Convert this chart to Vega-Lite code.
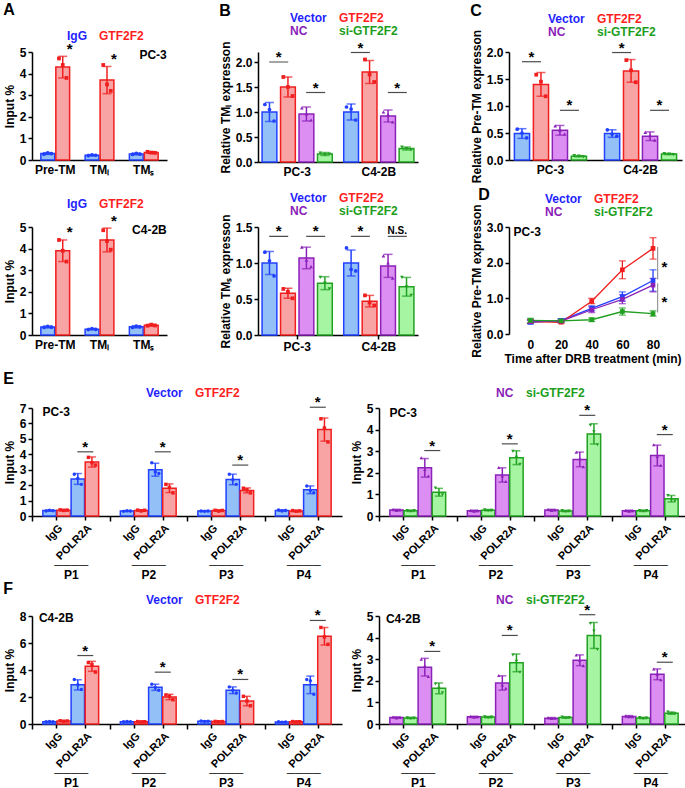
{
"$schema": "https://vega.github.io/schema/vega-lite/v6.json",
"padding": {"left": 3, "top": 2, "right": 0, "bottom": 0},
"config": {
 "font": "Liberation Sans",
 "view": {"stroke": null},
 "axis": {"grid": false, "domainColor": "#000", "domainWidth": 1.5, "tickColor": "#000", "tickWidth": 1.5, "tickSize": 4, "labelColor": "#000", "labelFontSize": 12, "labelFontWeight": "bold", "labelFont": "Liberation Sans", "titleFont": "Liberation Sans", "titleFontSize": 12, "titleFontWeight": "bold", "titleColor": "#000", "labelPadding": 2, "titlePadding": 3, "labelOverlap": false, "labelFlush": false},
 "legend": {"orient": "top", "direction": "horizontal", "symbolOpacity": 0, "symbolSize": 0, "symbolStrokeWidth": 0, "labelFont": "Liberation Sans", "labelFontSize": 12, "labelFontWeight": "bold", "columnPadding": 0, "rowPadding": 1, "labelOffset": 0, "padding": 0, "layout": {"top": {"anchor": "middle"}}},
 "title": {"anchor": "start", "frame": "bounds", "fontSize": 16, "fontWeight": "bold", "font": "Liberation Sans", "color": "#000"},
 "text": {"font": "Liberation Sans", "fontWeight": "bold"}
},
"resolve": {"scale": {"color": "independent", "stroke": "independent", "fill": "independent", "shape": "independent", "x": "independent", "y": "independent", "xOffset": "independent"}, "legend": {"color": "independent"}},
"spacing": 7,
"vconcat": [
{
 "spacing": 4,
 "resolve": {"scale": {"color": "independent", "stroke": "independent", "fill": "independent", "shape": "independent", "x": "independent", "y": "independent", "xOffset": "independent"}, "legend": {"color": "independent"}},
 "vconcat": [
 {
  "spacing": 52,
  "resolve": {"scale": {"color": "independent", "stroke": "independent", "fill": "independent", "shape": "independent", "x": "independent", "y": "independent", "xOffset": "independent"}, "legend": {"color": "independent"}},
  "hconcat": [
  {
   "width": 135, "height": 108,
   "title": {"text": "A", "offset": 12},
   "data": {"values": [
    {"c":"Pre-TM","g":"IgG","m":0.3,"lo":0.26,"hi":0.34,"a":0.27,"b":0.33,"d":0.3},
    {"c":"Pre-TM","g":"GTF2F2","m":4.3,"lo":3.8,"hi":4.8,"a":4.7,"b":4.4,"d":3.8},
    {"c":"TMₗ","g":"IgG","m":0.22,"lo":0.19,"hi":0.25,"a":0.2,"b":0.24,"d":0.22},
    {"c":"TMₗ","g":"GTF2F2","m":3.7,"lo":3.07,"hi":4.33,"a":4.4,"b":3.5,"d":3.2},
    {"c":"TMₛ","g":"IgG","m":0.28,"lo":0.24,"hi":0.32,"a":0.26,"b":0.31,"d":0.27},
    {"c":"TMₛ","g":"GTF2F2","m":0.35,"lo":0.31,"hi":0.39,"a":0.38,"b":0.34,"d":0.33}
   ]},
   "layer": [
    {"mark": {"type": "bar", "strokeWidth": 1.5},
     "encoding": {
      "x": {"field": "c", "type": "nominal", "scale": {"domain": ["Pre-TM","TMₗ","TMₛ"], "paddingInner": 0.35, "paddingOuter": 0.2}, "axis": {"title": null, "labelAngle": 0, "ticks": false, "labelPadding": 4}},
      "xOffset": {"field": "g", "type": "nominal", "scale": {"domain": ["IgG","GTF2F2"], "paddingInner": 0.08, "paddingOuter": 0}},
      "y": {"field": "m", "type": "quantitative", "scale": {"domain": [0,5], "nice": false}, "axis": {"title": "Input %", "values": [0,1,2,3,4,5]}},
      "color": {"field": "g", "type": "nominal", "scale": {"domain": ["IgG","GTF2F2"], "range": ["#93c1f7","#f9a4a4"]}, "legend": {"title": null, "columns": 2, "offset": 10, "encode": {"labels": {"update": {"fill": {"signal": "datum.value === 'GTF2F2' ? '#ff1f1f' : datum.value === 'NC' ? '#8a1cb8' : datum.value === 'si-GTF2F2' ? '#1c9e1c' : '#1f1fff'"}}}}}},
      "stroke": {"field": "g", "type": "nominal", "scale": {"domain": ["IgG","GTF2F2"], "range": ["#2140ff","#f01e1e"]}, "legend": null}
     }},
    {"mark": {"type": "rule", "strokeWidth": 1.5},
     "encoding": {
      "x": {"field": "c", "type": "nominal"},
      "xOffset": {"field": "g", "type": "nominal", "scale": {"domain": ["IgG","GTF2F2"], "paddingInner": 0.08, "paddingOuter": 0}},
      "y": {"field": "lo", "type": "quantitative", "axis": {"title": "Input %", "values": [0,1,2,3,4,5]}},
      "y2": {"field": "hi"},
      "stroke": {"field": "g", "type": "nominal", "legend": null}
     }},
    {"transform": [{"fold": ["lo","hi"], "as": ["ek","ev"]}],
     "mark": {"type": "tick", "thickness": 1.5, "size": 9},
     "encoding": {
      "x": {"field": "c", "type": "nominal"},
      "xOffset": {"field": "g", "type": "nominal", "scale": {"domain": ["IgG","GTF2F2"], "paddingInner": 0.08, "paddingOuter": 0}},
      "y": {"field": "ev", "type": "quantitative", "axis": {"title": "Input %", "values": [0,1,2,3,4,5]}},
      "fill": {"field": "g", "type": "nominal", "scale": {"domain": ["IgG","GTF2F2"], "range": ["#2140ff","#f01e1e"]}, "legend": null}
     }},
    {"transform": [{"fold": ["a","b","d"]}, {"calculate": "datum.g + '_' + datum.key", "as": "gk"}],
     "mark": {"type": "point", "filled": true, "size": 14, "opacity": 1},
     "encoding": {
      "x": {"field": "c", "type": "nominal"},
      "xOffset": {"field": "gk", "type": "nominal", "scale": {"type": "point", "domain": ["IgG_a","IgG_b","IgG_d","_1","GTF2F2_a","GTF2F2_b","GTF2F2_d"], "padding": 0.84}},
      "y": {"field": "value", "type": "quantitative", "axis": {"title": "Input %", "values": [0,1,2,3,4,5]}},
      "fill": {"field": "g", "type": "nominal", "legend": null},
      "shape": {"field": "g", "type": "nominal", "scale": {"domain": ["IgG","GTF2F2"], "range": ["circle","square"]}, "legend": null}
     }},
    {"data": {"values": [{"c":"Pre-TM","g":"GTF2F2","y":4.93},{"c":"TMₗ","g":"GTF2F2","y":4.43}]},
     "mark": {"type": "text", "text": "*", "fontSize": 15, "fontWeight": "bold", "baseline": "alphabetic"},
     "encoding": {
      "x": {"field": "c", "type": "nominal"},
      "xOffset": {"field": "g", "type": "nominal", "scale": {"domain": ["IgG","GTF2F2"], "paddingInner": 0.08, "paddingOuter": 0}},
      "y": {"field": "y", "type": "quantitative", "axis": {"title": "Input %", "values": [0,1,2,3,4,5]}}
     }},
    {"data": {"values": [{"c":"TMₛ","y":4.85,"t":"PC-3"}]},
     "mark": {"type": "text", "fontSize": 12, "fontWeight": "bold", "align": "right", "baseline": "middle"},
     "encoding": {
      "x": {"field": "c", "type": "nominal", "bandPosition": 1.3},
      "y": {"field": "y", "type": "quantitative", "axis": {"title": "Input %", "values": [0,1,2,3,4,5]}},
      "text": {"field": "t"}
     }}
   ],
   "resolve": {"scale": {"xOffset": "independent"}}
  },
  {
   "width": 160, "height": 110,
   "title": {"text": "B", "offset": -7},
   "data": {"values": [
    {"c":"PC-3","g":"Vector","m":1.0,"lo":0.81,"hi":1.19,"a":1.15,"b":1.05,"d":0.82},
    {"c":"PC-3","g":"GTF2F2","m":1.5,"lo":1.3,"hi":1.7,"a":1.7,"b":1.5,"d":1.32},
    {"c":"PC-3","g":"NC","m":0.96,"lo":0.82,"hi":1.1,"a":1.08,"b":0.96,"d":0.84},
    {"c":"PC-3","g":"si-GTF2F2","m":0.16,"lo":0.13,"hi":0.19,"a":0.18,"b":0.15,"d":0.16},
    {"c":"C4-2B","g":"Vector","m":1.0,"lo":0.84,"hi":1.16,"a":1.1,"b":1.06,"d":0.84},
    {"c":"C4-2B","g":"GTF2F2","m":1.8,"lo":1.57,"hi":2.03,"a":2.05,"b":1.75,"d":1.6},
    {"c":"C4-2B","g":"NC","m":0.92,"lo":0.8,"hi":1.04,"a":1.0,"b":0.95,"d":0.8},
    {"c":"C4-2B","g":"si-GTF2F2","m":0.27,"lo":0.24,"hi":0.3,"a":0.3,"b":0.27,"d":0.24}
   ]},
   "layer": [
    {"mark": {"type": "bar", "strokeWidth": 1.5},
     "encoding": {
      "x": {"field": "c", "type": "nominal", "scale": {"domain": ["PC-3","C4-2B"], "paddingInner": 0.14, "paddingOuter": 0.05}, "axis": {"title": null, "labelAngle": 0, "ticks": false, "labelPadding": 4}},
      "xOffset": {"field": "g", "type": "nominal", "scale": {"domain": ["Vector","GTF2F2","NC","si-GTF2F2"], "paddingInner": 0.2, "paddingOuter": 0}},
      "y": {"field": "m", "type": "quantitative", "scale": {"domain": [0,2.2], "nice": false}, "axis": {"title": "Relative TMₗ expresson", "values": [0,0.5,1,1.5,2], "tickCount": 5}},
      "color": {"field": "g", "type": "nominal", "scale": {"domain": ["Vector","GTF2F2","NC","si-GTF2F2"], "range": ["#93c1f7","#f9a4a4","#dd8ef3","#a6f5a2"]}, "legend": {"title": null, "columns": 2, "offset": 15, "encode": {"labels": {"update": {"fill": {"signal": "datum.value === 'GTF2F2' ? '#ff1f1f' : datum.value === 'NC' ? '#8a1cb8' : datum.value === 'si-GTF2F2' ? '#1c9e1c' : '#1f1fff'"}}}}}},
      "stroke": {"field": "g", "type": "nominal", "scale": {"domain": ["Vector","GTF2F2","NC","si-GTF2F2"], "range": ["#2140ff","#f01e1e","#8b22b8","#22a022"]}, "legend": null}
     }},
    {"mark": {"type": "rule", "strokeWidth": 1.5},
     "encoding": {
      "x": {"field": "c", "type": "nominal"},
      "xOffset": {"field": "g", "type": "nominal", "scale": {"domain": ["Vector","GTF2F2","NC","si-GTF2F2"], "paddingInner": 0.2, "paddingOuter": 0}},
      "y": {"field": "lo", "type": "quantitative", "axis": {"title": "Relative TMₗ expresson", "values": [0,0.5,1,1.5,2], "tickCount": 5}},
      "y2": {"field": "hi"},
      "stroke": {"field": "g", "type": "nominal", "legend": null}
     }},
    {"transform": [{"fold": ["lo","hi"], "as": ["ek","ev"]}],
     "mark": {"type": "tick", "thickness": 1.5, "size": 9},
     "encoding": {
      "x": {"field": "c", "type": "nominal"},
      "xOffset": {"field": "g", "type": "nominal", "scale": {"domain": ["Vector","GTF2F2","NC","si-GTF2F2"], "paddingInner": 0.2, "paddingOuter": 0}},
      "y": {"field": "ev", "type": "quantitative", "axis": {"title": "Relative TMₗ expresson", "values": [0,0.5,1,1.5,2], "tickCount": 5}},
      "fill": {"field": "g", "type": "nominal", "scale": {"domain": ["Vector","GTF2F2","NC","si-GTF2F2"], "range": ["#2140ff","#f01e1e","#8b22b8","#22a022"]}, "legend": null}
     }},
    {"transform": [{"fold": ["a","b","d"]}, {"calculate": "datum.g + '_' + datum.key", "as": "gk"}],
     "mark": {"type": "point", "filled": true, "size": 14, "opacity": 1},
     "encoding": {
      "x": {"field": "c", "type": "nominal"},
      "xOffset": {"field": "gk", "type": "nominal", "scale": {"type": "point", "domain": ["Vector_a","Vector_b","Vector_d","_1","GTF2F2_a","GTF2F2_b","GTF2F2_d","_2","NC_a","NC_b","NC_d","_3","si-GTF2F2_a","si-GTF2F2_b","si-GTF2F2_d"], "padding": 0.6}},
      "y": {"field": "value", "type": "quantitative", "axis": {"title": "Relative TMₗ expresson", "values": [0,0.5,1,1.5,2], "tickCount": 5}},
      "fill": {"field": "g", "type": "nominal", "legend": null},
      "shape": {"field": "g", "type": "nominal", "scale": {"domain": ["Vector","GTF2F2","NC","si-GTF2F2"], "range": ["circle","square","triangle-up","triangle-down"]}, "legend": null}
     }},
    {"data": {"values": [{"c":"PC-3","p":"L","y":2.0},{"c":"PC-3","p":"R","y":1.39},{"c":"C4-2B","p":"L","y":2.19},{"c":"C4-2B","p":"R","y":1.39}]},
     "layer": [
      {"mark": {"type": "tick", "size": 19, "thickness": 1.2, "color": "#000"}},
      {"mark": {"type": "text", "text": "*", "fontSize": 15, "fontWeight": "bold", "baseline": "alphabetic"}}
     ],
     "encoding": {
      "x": {"field": "c", "type": "nominal"},
      "xOffset": {"field": "p", "type": "nominal", "scale": {"type": "point", "domain": ["L","R"], "padding": 0.45}},
      "y": {"field": "y", "type": "quantitative", "axis": {"title": "Relative TMₗ expresson", "values": [0,0.5,1,1.5,2], "tickCount": 5}}
     }}
   ],
   "resolve": {"scale": {"xOffset": "independent"}}
  },
  {
   "width": 173, "height": 108,
   "title": {"text": "C", "offset": -6},
   "data": {"values": [
    {"c":"PC-3","g":"Vector","m":0.49,"lo":0.4,"hi":0.58,"a":0.57,"b":0.5,"d":0.41},
    {"c":"PC-3","g":"GTF2F2","m":1.4,"lo":1.18,"hi":1.62,"a":1.58,"b":1.45,"d":1.18},
    {"c":"PC-3","g":"NC","m":0.55,"lo":0.46,"hi":0.64,"a":0.63,"b":0.55,"d":0.48},
    {"c":"PC-3","g":"si-GTF2F2","m":0.07,"lo":0.06,"hi":0.08,"a":0.08,"b":0.07,"d":0.06},
    {"c":"C4-2B","g":"Vector","m":0.49,"lo":0.42,"hi":0.56,"a":0.56,"b":0.48,"d":0.44},
    {"c":"C4-2B","g":"GTF2F2","m":1.65,"lo":1.44,"hi":1.86,"a":1.85,"b":1.66,"d":1.44},
    {"c":"C4-2B","g":"NC","m":0.44,"lo":0.36,"hi":0.52,"a":0.51,"b":0.45,"d":0.37},
    {"c":"C4-2B","g":"si-GTF2F2","m":0.11,"lo":0.1,"hi":0.12,"a":0.12,"b":0.11,"d":0.1}
   ]},
   "layer": [
    {"mark": {"type": "bar", "strokeWidth": 1.5},
     "encoding": {
      "x": {"field": "c", "type": "nominal", "scale": {"domain": ["PC-3","C4-2B"], "paddingInner": 0.2, "paddingOuter": 0.06}, "axis": {"title": null, "labelAngle": 0, "ticks": false, "labelPadding": 4}},
      "xOffset": {"field": "g", "type": "nominal", "scale": {"domain": ["Vector","GTF2F2","NC","si-GTF2F2"], "paddingInner": 0.2, "paddingOuter": 0}},
      "y": {"field": "m", "type": "quantitative", "scale": {"domain": [0,2], "nice": false}, "axis": {"title": "Relative Pre-TM expresson", "values": [0,0.5,1,1.5,2], "tickCount": 5}},
      "color": {"field": "g", "type": "nominal", "scale": {"domain": ["Vector","GTF2F2","NC","si-GTF2F2"], "range": ["#93c1f7","#f9a4a4","#dd8ef3","#a6f5a2"]}, "legend": {"title": null, "columns": 2, "offset": 14, "encode": {"labels": {"update": {"fill": {"signal": "datum.value === 'GTF2F2' ? '#ff1f1f' : datum.value === 'NC' ? '#8a1cb8' : datum.value === 'si-GTF2F2' ? '#1c9e1c' : '#1f1fff'"}}}}}},
      "stroke": {"field": "g", "type": "nominal", "scale": {"domain": ["Vector","GTF2F2","NC","si-GTF2F2"], "range": ["#2140ff","#f01e1e","#8b22b8","#22a022"]}, "legend": null}
     }},
    {"mark": {"type": "rule", "strokeWidth": 1.5},
     "encoding": {
      "x": {"field": "c", "type": "nominal"},
      "xOffset": {"field": "g", "type": "nominal", "scale": {"domain": ["Vector","GTF2F2","NC","si-GTF2F2"], "paddingInner": 0.2, "paddingOuter": 0}},
      "y": {"field": "lo", "type": "quantitative", "axis": {"title": "Relative Pre-TM expresson", "values": [0,0.5,1,1.5,2], "tickCount": 5}},
      "y2": {"field": "hi"},
      "stroke": {"field": "g", "type": "nominal", "legend": null}
     }},
    {"transform": [{"fold": ["lo","hi"], "as": ["ek","ev"]}],
     "mark": {"type": "tick", "thickness": 1.5, "size": 9},
     "encoding": {
      "x": {"field": "c", "type": "nominal"},
      "xOffset": {"field": "g", "type": "nominal", "scale": {"domain": ["Vector","GTF2F2","NC","si-GTF2F2"], "paddingInner": 0.2, "paddingOuter": 0}},
      "y": {"field": "ev", "type": "quantitative", "axis": {"title": "Relative Pre-TM expresson", "values": [0,0.5,1,1.5,2], "tickCount": 5}},
      "fill": {"field": "g", "type": "nominal", "scale": {"domain": ["Vector","GTF2F2","NC","si-GTF2F2"], "range": ["#2140ff","#f01e1e","#8b22b8","#22a022"]}, "legend": null}
     }},
    {"transform": [{"fold": ["a","b","d"]}, {"calculate": "datum.g + '_' + datum.key", "as": "gk"}],
     "mark": {"type": "point", "filled": true, "size": 14, "opacity": 1},
     "encoding": {
      "x": {"field": "c", "type": "nominal"},
      "xOffset": {"field": "gk", "type": "nominal", "scale": {"type": "point", "domain": ["Vector_a","Vector_b","Vector_d","_1","GTF2F2_a","GTF2F2_b","GTF2F2_d","_2","NC_a","NC_b","NC_d","_3","si-GTF2F2_a","si-GTF2F2_b","si-GTF2F2_d"], "padding": 0.6}},
      "y": {"field": "value", "type": "quantitative", "axis": {"title": "Relative Pre-TM expresson", "values": [0,0.5,1,1.5,2], "tickCount": 5}},
      "fill": {"field": "g", "type": "nominal", "legend": null},
      "shape": {"field": "g", "type": "nominal", "scale": {"domain": ["Vector","GTF2F2","NC","si-GTF2F2"], "range": ["circle","square","triangle-up","triangle-down"]}, "legend": null}
     }},
    {"data": {"values": [{"c":"PC-3","p":"L","y":1.82},{"c":"PC-3","p":"R","y":0.92},{"c":"C4-2B","p":"L","y":1.99},{"c":"C4-2B","p":"R","y":0.92}]},
     "layer": [
      {"mark": {"type": "tick", "size": 19, "thickness": 1.2, "color": "#000"}},
      {"mark": {"type": "text", "text": "*", "fontSize": 15, "fontWeight": "bold", "baseline": "alphabetic"}}
     ],
     "encoding": {
      "x": {"field": "c", "type": "nominal"},
      "xOffset": {"field": "p", "type": "nominal", "scale": {"type": "point", "domain": ["L","R"], "padding": 0.45}},
      "y": {"field": "y", "type": "quantitative", "axis": {"title": "Relative Pre-TM expresson", "values": [0,0.5,1,1.5,2], "tickCount": 5}}
     }}
   ],
   "resolve": {"scale": {"xOffset": "independent"}}
  }
  ]
 },
 {
  "spacing": 52,
  "resolve": {"scale": {"color": "independent", "stroke": "independent", "fill": "independent", "shape": "independent", "x": "independent", "y": "independent", "xOffset": "independent"}, "legend": {"color": "independent"}},
  "hconcat": [
  {
   "width": 135, "height": 108,
   "data": {"values": [
    {"c":"Pre-TM","g":"IgG","m":0.37,"lo":0.33,"hi":0.41,"a":0.35,"b":0.4,"d":0.36},
    {"c":"Pre-TM","g":"GTF2F2","m":3.9,"lo":3.4,"hi":4.4,"a":4.4,"b":3.9,"d":3.4},
    {"c":"TMₗ","g":"IgG","m":0.27,"lo":0.24,"hi":0.3,"a":0.25,"b":0.3,"d":0.26},
    {"c":"TMₗ","g":"GTF2F2","m":4.4,"lo":3.85,"hi":4.95,"a":4.85,"b":4.35,"d":3.95},
    {"c":"TMₛ","g":"IgG","m":0.38,"lo":0.33,"hi":0.43,"a":0.35,"b":0.41,"d":0.38},
    {"c":"TMₛ","g":"GTF2F2","m":0.45,"lo":0.41,"hi":0.49,"a":0.43,"b":0.48,"d":0.44}
   ]},
   "layer": [
    {"mark": {"type": "bar", "strokeWidth": 1.5},
     "encoding": {
      "x": {"field": "c", "type": "nominal", "scale": {"domain": ["Pre-TM","TMₗ","TMₛ"], "paddingInner": 0.35, "paddingOuter": 0.2}, "axis": {"title": null, "labelAngle": 0, "ticks": false, "labelPadding": 4}},
      "xOffset": {"field": "g", "type": "nominal", "scale": {"domain": ["IgG","GTF2F2"], "paddingInner": 0.08, "paddingOuter": 0}},
      "y": {"field": "m", "type": "quantitative", "scale": {"domain": [0,5], "nice": false}, "axis": {"title": "Input %", "values": [0,1,2,3,4,5]}},
      "color": {"field": "g", "type": "nominal", "scale": {"domain": ["IgG","GTF2F2"], "range": ["#93c1f7","#f9a4a4"]}, "legend": {"title": null, "columns": 2, "offset": 17, "encode": {"labels": {"update": {"fill": {"signal": "datum.value === 'GTF2F2' ? '#ff1f1f' : datum.value === 'NC' ? '#8a1cb8' : datum.value === 'si-GTF2F2' ? '#1c9e1c' : '#1f1fff'"}}}}}},
      "stroke": {"field": "g", "type": "nominal", "scale": {"domain": ["IgG","GTF2F2"], "range": ["#2140ff","#f01e1e"]}, "legend": null}
     }},
    {"mark": {"type": "rule", "strokeWidth": 1.5},
     "encoding": {
      "x": {"field": "c", "type": "nominal"},
      "xOffset": {"field": "g", "type": "nominal", "scale": {"domain": ["IgG","GTF2F2"], "paddingInner": 0.08, "paddingOuter": 0}},
      "y": {"field": "lo", "type": "quantitative", "axis": {"title": "Input %", "values": [0,1,2,3,4,5]}},
      "y2": {"field": "hi"},
      "stroke": {"field": "g", "type": "nominal", "legend": null}
     }},
    {"transform": [{"fold": ["lo","hi"], "as": ["ek","ev"]}],
     "mark": {"type": "tick", "thickness": 1.5, "size": 9},
     "encoding": {
      "x": {"field": "c", "type": "nominal"},
      "xOffset": {"field": "g", "type": "nominal", "scale": {"domain": ["IgG","GTF2F2"], "paddingInner": 0.08, "paddingOuter": 0}},
      "y": {"field": "ev", "type": "quantitative", "axis": {"title": "Input %", "values": [0,1,2,3,4,5]}},
      "fill": {"field": "g", "type": "nominal", "scale": {"domain": ["IgG","GTF2F2"], "range": ["#2140ff","#f01e1e"]}, "legend": null}
     }},
    {"transform": [{"fold": ["a","b","d"]}, {"calculate": "datum.g + '_' + datum.key", "as": "gk"}],
     "mark": {"type": "point", "filled": true, "size": 14, "opacity": 1},
     "encoding": {
      "x": {"field": "c", "type": "nominal"},
      "xOffset": {"field": "gk", "type": "nominal", "scale": {"type": "point", "domain": ["IgG_a","IgG_b","IgG_d","_1","GTF2F2_a","GTF2F2_b","GTF2F2_d"], "padding": 0.84}},
      "y": {"field": "value", "type": "quantitative", "axis": {"title": "Input %", "values": [0,1,2,3,4,5]}},
      "fill": {"field": "g", "type": "nominal", "legend": null},
      "shape": {"field": "g", "type": "nominal", "scale": {"domain": ["IgG","GTF2F2"], "range": ["circle","square"]}, "legend": null}
     }},
    {"data": {"values": [{"c":"Pre-TM","g":"GTF2F2","y":4.53},{"c":"TMₗ","g":"GTF2F2","y":5.03}]},
     "mark": {"type": "text", "text": "*", "fontSize": 15, "fontWeight": "bold", "baseline": "alphabetic"},
     "encoding": {
      "x": {"field": "c", "type": "nominal"},
      "xOffset": {"field": "g", "type": "nominal", "scale": {"domain": ["IgG","GTF2F2"], "paddingInner": 0.08, "paddingOuter": 0}},
      "y": {"field": "y", "type": "quantitative", "axis": {"title": "Input %", "values": [0,1,2,3,4,5]}}
     }},
    {"data": {"values": [{"c":"TMₛ","y":4.85,"t":"C4-2B"}]},
     "mark": {"type": "text", "fontSize": 12, "fontWeight": "bold", "align": "right", "baseline": "middle"},
     "encoding": {
      "x": {"field": "c", "type": "nominal", "bandPosition": 1.3},
      "y": {"field": "y", "type": "quantitative", "axis": {"title": "Input %", "values": [0,1,2,3,4,5]}},
      "text": {"field": "t"}
     }}
   ],
   "resolve": {"scale": {"xOffset": "independent"}}
  },
  {
   "width": 160, "height": 108,
   "data": {"values": [
    {"c":"PC-3","g":"Vector","m":1.0,"lo":0.84,"hi":1.16,"a":1.15,"b":1.03,"d":0.82},
    {"c":"PC-3","g":"GTF2F2","m":0.58,"lo":0.51,"hi":0.65,"a":0.64,"b":0.6,"d":0.51},
    {"c":"PC-3","g":"NC","m":1.07,"lo":0.92,"hi":1.22,"a":1.22,"b":1.04,"d":0.95},
    {"c":"PC-3","g":"si-GTF2F2","m":0.72,"lo":0.63,"hi":0.81,"a":0.8,"b":0.72,"d":0.64},
    {"c":"C4-2B","g":"Vector","m":1.0,"lo":0.82,"hi":1.18,"a":1.21,"b":0.91,"d":0.89},
    {"c":"C4-2B","g":"GTF2F2","m":0.47,"lo":0.39,"hi":0.55,"a":0.55,"b":0.45,"d":0.41},
    {"c":"C4-2B","g":"NC","m":0.96,"lo":0.8,"hi":1.12,"a":1.1,"b":1.0,"d":0.79},
    {"c":"C4-2B","g":"si-GTF2F2","m":0.67,"lo":0.54,"hi":0.8,"a":0.8,"b":0.67,"d":0.55}
   ]},
   "layer": [
    {"mark": {"type": "bar", "strokeWidth": 1.5},
     "encoding": {
      "x": {"field": "c", "type": "nominal", "scale": {"domain": ["PC-3","C4-2B"], "paddingInner": 0.14, "paddingOuter": 0.05}, "axis": {"title": null, "labelAngle": 0, "ticks": true, "tickSize": 4, "labelPadding": 2}},
      "xOffset": {"field": "g", "type": "nominal", "scale": {"domain": ["Vector","GTF2F2","NC","si-GTF2F2"], "paddingInner": 0.2, "paddingOuter": 0}},
      "y": {"field": "m", "type": "quantitative", "scale": {"domain": [0,1.5], "nice": false}, "axis": {"title": "Relative TMₛ expresson", "values": [0,0.5,1,1.5], "tickCount": 4}},
      "color": {"field": "g", "type": "nominal", "scale": {"domain": ["Vector","GTF2F2","NC","si-GTF2F2"], "range": ["#93c1f7","#f9a4a4","#dd8ef3","#a6f5a2"]}, "legend": {"title": null, "columns": 2, "offset": 10, "encode": {"labels": {"update": {"fill": {"signal": "datum.value === 'GTF2F2' ? '#ff1f1f' : datum.value === 'NC' ? '#8a1cb8' : datum.value === 'si-GTF2F2' ? '#1c9e1c' : '#1f1fff'"}}}}}},
      "stroke": {"field": "g", "type": "nominal", "scale": {"domain": ["Vector","GTF2F2","NC","si-GTF2F2"], "range": ["#2140ff","#f01e1e","#8b22b8","#22a022"]}, "legend": null}
     }},
    {"mark": {"type": "rule", "strokeWidth": 1.5},
     "encoding": {
      "x": {"field": "c", "type": "nominal"},
      "xOffset": {"field": "g", "type": "nominal", "scale": {"domain": ["Vector","GTF2F2","NC","si-GTF2F2"], "paddingInner": 0.2, "paddingOuter": 0}},
      "y": {"field": "lo", "type": "quantitative", "axis": {"title": "Relative TMₛ expresson", "values": [0,0.5,1,1.5], "tickCount": 4}},
      "y2": {"field": "hi"},
      "stroke": {"field": "g", "type": "nominal", "legend": null}
     }},
    {"transform": [{"fold": ["lo","hi"], "as": ["ek","ev"]}],
     "mark": {"type": "tick", "thickness": 1.5, "size": 9},
     "encoding": {
      "x": {"field": "c", "type": "nominal"},
      "xOffset": {"field": "g", "type": "nominal", "scale": {"domain": ["Vector","GTF2F2","NC","si-GTF2F2"], "paddingInner": 0.2, "paddingOuter": 0}},
      "y": {"field": "ev", "type": "quantitative", "axis": {"title": "Relative TMₛ expresson", "values": [0,0.5,1,1.5], "tickCount": 4}},
      "fill": {"field": "g", "type": "nominal", "scale": {"domain": ["Vector","GTF2F2","NC","si-GTF2F2"], "range": ["#2140ff","#f01e1e","#8b22b8","#22a022"]}, "legend": null}
     }},
    {"transform": [{"fold": ["a","b","d"]}, {"calculate": "datum.g + '_' + datum.key", "as": "gk"}],
     "mark": {"type": "point", "filled": true, "size": 14, "opacity": 1},
     "encoding": {
      "x": {"field": "c", "type": "nominal"},
      "xOffset": {"field": "gk", "type": "nominal", "scale": {"type": "point", "domain": ["Vector_a","Vector_b","Vector_d","_1","GTF2F2_a","GTF2F2_b","GTF2F2_d","_2","NC_a","NC_b","NC_d","_3","si-GTF2F2_a","si-GTF2F2_b","si-GTF2F2_d"], "padding": 0.6}},
      "y": {"field": "value", "type": "quantitative", "axis": {"title": "Relative TMₛ expresson", "values": [0,0.5,1,1.5], "tickCount": 4}},
      "fill": {"field": "g", "type": "nominal", "legend": null},
      "shape": {"field": "g", "type": "nominal", "scale": {"domain": ["Vector","GTF2F2","NC","si-GTF2F2"], "range": ["circle","square","triangle-up","triangle-down"]}, "legend": null}
     }},
    {"data": {"values": [{"c":"PC-3","p":"L","y":1.37,"t":"*"},{"c":"PC-3","p":"R","y":1.37,"t":"*"},{"c":"C4-2B","p":"L","y":1.37,"t":"*"},{"c":"C4-2B","p":"R","y":1.37,"t":"N.S."}]},
     "layer": [
      {"mark": {"type": "tick", "size": 19, "thickness": 1.2, "color": "#000"}},
      {"transform": [{"filter": "datum.t === '*'"}], "mark": {"type": "text", "text": "*", "fontSize": 15, "fontWeight": "bold", "baseline": "alphabetic"}},
      {"transform": [{"filter": "datum.t !== '*'"}], "mark": {"type": "text", "fontSize": 10, "fontWeight": "bold", "baseline": "bottom"}, "encoding": {"text": {"field": "t"}}}
     ],
     "encoding": {
      "x": {"field": "c", "type": "nominal"},
      "xOffset": {"field": "p", "type": "nominal", "scale": {"type": "point", "domain": ["L","R"], "padding": 0.45}},
      "y": {"field": "y", "type": "quantitative", "axis": {"title": "Relative TMₛ expresson", "values": [0,0.5,1,1.5], "tickCount": 4}}
     }}
   ],
   "resolve": {"scale": {"xOffset": "independent"}}
  },
  {
   "width": 167, "height": 107,
   "title": {"text": "D", "offset": -10, "dx": 8},
   "data": {"values": [
    {"t":0,"g":"Vector","m":0.33,"lo":0.28,"hi":0.38},
    {"t":20,"g":"Vector","m":0.38,"lo":0.33,"hi":0.43},
    {"t":40,"g":"Vector","m":0.72,"lo":0.65,"hi":0.79},
    {"t":60,"g":"Vector","m":1.05,"lo":0.92,"hi":1.18},
    {"t":80,"g":"Vector","m":1.5,"lo":1.2,"hi":1.8},
    {"t":0,"g":"GTF2F2","m":0.35,"lo":0.3,"hi":0.4},
    {"t":20,"g":"GTF2F2","m":0.33,"lo":0.3,"hi":0.36},
    {"t":40,"g":"GTF2F2","m":0.92,"lo":0.85,"hi":1.0},
    {"t":60,"g":"GTF2F2","m":1.8,"lo":1.55,"hi":2.05},
    {"t":80,"g":"GTF2F2","m":2.4,"lo":2.1,"hi":2.7},
    {"t":0,"g":"NC","m":0.35,"lo":0.3,"hi":0.4},
    {"t":20,"g":"NC","m":0.36,"lo":0.33,"hi":0.39},
    {"t":40,"g":"NC","m":0.68,"lo":0.6,"hi":0.76},
    {"t":60,"g":"NC","m":0.97,"lo":0.85,"hi":1.1},
    {"t":80,"g":"NC","m":1.37,"lo":1.18,"hi":1.56},
    {"t":0,"g":"si-GTF2F2","m":0.38,"lo":0.32,"hi":0.44},
    {"t":20,"g":"si-GTF2F2","m":0.37,"lo":0.34,"hi":0.4},
    {"t":40,"g":"si-GTF2F2","m":0.4,"lo":0.35,"hi":0.45},
    {"t":60,"g":"si-GTF2F2","m":0.63,"lo":0.53,"hi":0.73},
    {"t":80,"g":"si-GTF2F2","m":0.57,"lo":0.5,"hi":0.65}
   ]},
   "layer": [
    {"mark": {"type": "line", "strokeWidth": 1.3},
     "encoding": {
      "x": {"field": "t", "type": "quantitative", "scale": {"domain": [-14,95], "nice": false}, "axis": {"title": "Time after DRB treatment (min)", "values": [0,20,40,60,80], "domain": false, "ticks": false, "labelPadding": 5}},
      "y": {"field": "m", "type": "quantitative", "scale": {"domain": [0,3], "nice": false}, "axis": {"title": "Relative Pre-TM expresson", "values": [0,1,2,3], "tickCount": 6}},
      "color": {"field": "g", "type": "nominal", "scale": {"domain": ["Vector","GTF2F2","NC","si-GTF2F2"], "range": ["#2140ff","#f01e1e","#8b22b8","#22a022"]}, "legend": {"title": null, "columns": 2, "offset": 9, "encode": {"labels": {"update": {"fill": {"signal": "datum.value === 'GTF2F2' ? '#ff1f1f' : datum.value === 'NC' ? '#8a1cb8' : datum.value === 'si-GTF2F2' ? '#1c9e1c' : '#1f1fff'"}}}}}}
     }},
    {"mark": {"type": "rule", "strokeWidth": 1.3},
     "encoding": {
      "x": {"field": "t", "type": "quantitative", "axis": {"title": "Time after DRB treatment (min)", "values": [0,20,40,60,80], "domain": false, "ticks": false, "labelPadding": 5}},
      "y": {"field": "lo", "type": "quantitative", "axis": {"title": "Relative Pre-TM expresson", "values": [0,1,2,3], "tickCount": 6}},
      "y2": {"field": "hi"},
      "stroke": {"field": "g", "type": "nominal", "scale": {"domain": ["Vector","GTF2F2","NC","si-GTF2F2"], "range": ["#2140ff","#f01e1e","#8b22b8","#22a022"]}, "legend": null}
     }},
    {"transform": [{"fold": ["lo","hi"], "as": ["ek","ev"]}],
     "mark": {"type": "tick", "orient": "horizontal", "thickness": 1.3, "size": 7},
     "encoding": {
      "x": {"field": "t", "type": "quantitative", "axis": {"title": "Time after DRB treatment (min)", "values": [0,20,40,60,80], "domain": false, "ticks": false, "labelPadding": 5}},
      "y": {"field": "ev", "type": "quantitative", "axis": {"title": "Relative Pre-TM expresson", "values": [0,1,2,3], "tickCount": 6}},
      "fill": {"field": "g", "type": "nominal", "scale": {"domain": ["Vector","GTF2F2","NC","si-GTF2F2"], "range": ["#2140ff","#f01e1e","#8b22b8","#22a022"]}, "legend": null}
     }},
    {"mark": {"type": "square", "filled": true, "size": 22, "opacity": 1},
     "encoding": {
      "x": {"field": "t", "type": "quantitative", "axis": {"title": "Time after DRB treatment (min)", "values": [0,20,40,60,80], "domain": false, "ticks": false, "labelPadding": 5}},
      "y": {"field": "m", "type": "quantitative", "axis": {"title": "Relative Pre-TM expresson", "values": [0,1,2,3], "tickCount": 6}},
      "fill": {"field": "g", "type": "nominal", "legend": null}
     }},
    {"data": {"values": [{"x":83,"y":1.53,"y2":2.44},{"x":83,"y":0.6,"y2":1.42}]},
     "mark": {"type": "rule", "color": "#999", "strokeWidth": 1.2},
     "encoding": {
      "x": {"field": "x", "type": "quantitative", "axis": {"title": "Time after DRB treatment (min)", "values": [0,20,40,60,80], "domain": false, "ticks": false, "labelPadding": 5}},
      "y": {"field": "y", "type": "quantitative", "axis": {"title": "Relative Pre-TM expresson", "values": [0,1,2,3], "tickCount": 6}},
      "y2": {"field": "y2"}
     }},
    {"data": {"values": [{"x":87.5,"y":1.73,"t":"*"},{"x":87.5,"y":0.75,"t":"*"}]},
     "mark": {"type": "text", "text": "*", "fontSize": 15, "fontWeight": "bold", "baseline": "alphabetic"},
     "encoding": {
      "x": {"field": "x", "type": "quantitative", "axis": {"title": "Time after DRB treatment (min)", "values": [0,20,40,60,80], "domain": false, "ticks": false, "labelPadding": 5}},
      "y": {"field": "y", "type": "quantitative", "axis": {"title": "Relative Pre-TM expresson", "values": [0,1,2,3], "tickCount": 6}}
     }},
    {"data": {"values": [{"x":-11,"y":2.85,"t":"PC-3"}]},
     "mark": {"type": "text", "fontSize": 12, "fontWeight": "bold", "align": "left", "baseline": "middle"},
     "encoding": {
      "x": {"field": "x", "type": "quantitative", "axis": {"title": "Time after DRB treatment (min)", "values": [0,20,40,60,80], "domain": false, "ticks": false, "labelPadding": 5}},
      "y": {"field": "y", "type": "quantitative", "axis": {"title": "Relative Pre-TM expresson", "values": [0,1,2,3], "tickCount": 6}},
      "text": {"field": "t"}
     }}
   ]
  }
  ]
 }
 ]
},
{
 "spacing": 1,
 "resolve": {"scale": {"color": "independent", "stroke": "independent", "fill": "independent", "shape": "independent", "x": "independent", "y": "independent", "xOffset": "independent"}, "legend": {"color": "independent"}},
 "vconcat": [
{
 "spacing": 8,
 "resolve": {"scale": {"color": "independent", "stroke": "independent", "fill": "independent", "shape": "independent", "x": "independent", "y": "independent", "xOffset": "independent"}, "legend": {"color": "independent"}},
 "hconcat": [
 {
  "width": 310, "height": 108,
  "title": {"text": "E", "offset": 0},
  "data": {"values": [
   {"p":"P1","t":"IgG","g":"Vector","m":0.35,"lo":0.31,"hi":0.39,"a":0.33,"b":0.38,"d":0.34},
   {"p":"P1","t":"IgG","g":"GTF2F2","m":0.38,"lo":0.34,"hi":0.42,"a":0.4,"b":0.36,"d":0.38},
   {"p":"P1","t":"POLR2A","g":"Vector","m":2.4,"lo":2.05,"hi":2.75,"a":2.7,"b":2.45,"d":2.05},
   {"p":"P1","t":"POLR2A","g":"GTF2F2","m":3.5,"lo":3.17,"hi":3.83,"a":3.8,"b":3.45,"d":3.3},
   {"p":"P2","t":"IgG","g":"Vector","m":0.32,"lo":0.29,"hi":0.35,"a":0.3,"b":0.34,"d":0.32},
   {"p":"P2","t":"IgG","g":"GTF2F2","m":0.36,"lo":0.32,"hi":0.4,"a":0.38,"b":0.33,"d":0.37},
   {"p":"P2","t":"POLR2A","g":"Vector","m":3.0,"lo":2.58,"hi":3.42,"a":3.45,"b":2.85,"d":2.75},
   {"p":"P2","t":"POLR2A","g":"GTF2F2","m":1.8,"lo":1.52,"hi":2.08,"a":2.05,"b":1.85,"d":1.5},
   {"p":"P3","t":"IgG","g":"Vector","m":0.32,"lo":0.29,"hi":0.35,"a":0.33,"b":0.3,"d":0.33},
   {"p":"P3","t":"IgG","g":"GTF2F2","m":0.35,"lo":0.31,"hi":0.39,"a":0.37,"b":0.32,"d":0.36},
   {"p":"P3","t":"POLR2A","g":"Vector","m":2.37,"lo":2.03,"hi":2.71,"a":2.7,"b":2.35,"d":2.05},
   {"p":"P3","t":"POLR2A","g":"GTF2F2","m":1.66,"lo":1.5,"hi":1.82,"a":1.8,"b":1.7,"d":1.5},
   {"p":"P4","t":"IgG","g":"Vector","m":0.36,"lo":0.32,"hi":0.4,"a":0.39,"b":0.33,"d":0.36},
   {"p":"P4","t":"IgG","g":"GTF2F2","m":0.33,"lo":0.3,"hi":0.36,"a":0.35,"b":0.31,"d":0.33},
   {"p":"P4","t":"POLR2A","g":"Vector","m":1.7,"lo":1.45,"hi":1.95,"a":1.95,"b":1.65,"d":1.5},
   {"p":"P4","t":"POLR2A","g":"GTF2F2","m":5.6,"lo":4.85,"hi":6.35,"a":6.3,"b":5.7,"d":4.8}
  ]},
  "transform": [{"calculate": "datum.t + '|' + datum.g", "as": "sub"}],
  "layer": [
   {"layer": [
     {"mark": {"type": "bar", "strokeWidth": 1.5},
      "encoding": {
       "x": {"field": "p", "type": "nominal", "scale": {"domain": ["P1","P2","P3","P4"], "paddingInner": 0.28, "paddingOuter": 0.14}, "axis": {"orient": "bottom", "title": null, "labelAngle": 0, "ticks": true, "tickSize": 5, "tickOffset": -38.75, "labelOffset": 38.75, "labelPadding": 38, "labelAlign": "center", "labelBaseline": "top", "labelFontSize": 12, "labelLineHeight": 10, "labelExpr": "['────', datum.label]"}},
       "xOffset": {"field": "sub", "type": "nominal", "scale": {"domain": ["IgG|Vector","IgG|GTF2F2","POLR2A|Vector","POLR2A|GTF2F2"], "paddingInner": 0.05, "paddingOuter": 0}},
       "y": {"field": "m", "type": "quantitative", "scale": {"domain": [0,7], "nice": false}, "axis": {"title": "Input %", "values": [0,1,2,3,4,5,6,7]}},
       "color": {"field": "g", "type": "nominal", "scale": {"domain": ["Vector","GTF2F2"], "range": ["#93c1f7","#f9a4a4"]}, "legend": {"title": null, "columns": 2, "offset": 9, "encode": {"labels": {"update": {"fill": {"signal": "datum.value === 'GTF2F2' ? '#ff1f1f' : datum.value === 'NC' ? '#8a1cb8' : datum.value === 'si-GTF2F2' ? '#1c9e1c' : '#1f1fff'"}}}}}},
       "stroke": {"field": "g", "type": "nominal", "scale": {"domain": ["Vector","GTF2F2"], "range": ["#2140ff","#f01e1e"]}, "legend": null}
      }},
     {"mark": {"type": "rule", "strokeWidth": 1.5},
      "encoding": {
       "x": {"field": "p", "type": "nominal"},
       "xOffset": {"field": "sub", "type": "nominal", "scale": {"domain": ["IgG|Vector","IgG|GTF2F2","POLR2A|Vector","POLR2A|GTF2F2"], "paddingInner": 0.05, "paddingOuter": 0}},
       "y": {"field": "lo", "type": "quantitative", "axis": {"title": "Input %", "values": [0,1,2,3,4,5,6,7]}},
       "y2": {"field": "hi"},
       "stroke": {"field": "g", "type": "nominal", "legend": null}
      }},
     {"transform": [{"fold": ["lo","hi"], "as": ["ek","ev"]}],
      "mark": {"type": "tick", "thickness": 1.5, "size": 8},
      "encoding": {
       "x": {"field": "p", "type": "nominal"},
       "xOffset": {"field": "sub", "type": "nominal", "scale": {"domain": ["IgG|Vector","IgG|GTF2F2","POLR2A|Vector","POLR2A|GTF2F2"], "paddingInner": 0.05, "paddingOuter": 0}},
       "y": {"field": "ev", "type": "quantitative", "axis": {"title": "Input %", "values": [0,1,2,3,4,5,6,7]}},
       "fill": {"field": "g", "type": "nominal", "scale": {"domain": ["Vector","GTF2F2"], "range": ["#2140ff","#f01e1e"]}, "legend": null}
      }},
     {"transform": [{"fold": ["a","b","d"]}, {"calculate": "datum.sub + '_' + datum.key", "as": "gk"}],
      "mark": {"type": "point", "filled": true, "size": 12, "opacity": 1},
      "encoding": {
       "x": {"field": "p", "type": "nominal"},
       "xOffset": {"field": "gk", "type": "nominal", "scale": {"type": "point", "domain": ["IgG|Vector_a","IgG|Vector_b","IgG|Vector_d","_1","IgG|GTF2F2_a","IgG|GTF2F2_b","IgG|GTF2F2_d","_2","POLR2A|Vector_a","POLR2A|Vector_b","POLR2A|Vector_d","_3","POLR2A|GTF2F2_a","POLR2A|GTF2F2_b","POLR2A|GTF2F2_d"], "padding": 0.9}},
       "y": {"field": "value", "type": "quantitative", "axis": {"title": "Input %", "values": [0,1,2,3,4,5,6,7]}},
       "fill": {"field": "g", "type": "nominal", "legend": null},
       "shape": {"field": "g", "type": "nominal", "scale": {"domain": ["Vector","GTF2F2"], "range": ["circle","square"]}, "legend": null}
      }}
    ],
    "resolve": {"scale": {"xOffset": "independent"}}},
   {"data": {"values": [{"k":"P1 POLR2A","y":4.16,"t":"*"},{"k":"P2 POLR2A","y":4.16,"t":"*"},{"k":"P3 POLR2A","y":3.3,"t":"*"},{"k":"P4 POLR2A","y":7.05,"t":"*"},{"k":"P1 IgG","y":6.75,"t":"PC-3"}]},
    "encoding": {
     "x": {"field": "k", "type": "nominal", "scale": {"type": "point", "domain": ["s0a","s0b","P1 IgG","s1","s2","P1 POLR2A","s3","s4","s5","s6","P2 IgG","s7","s8","P2 POLR2A","s9","s10","s11","s12","P3 IgG","s13","s14","P3 POLR2A","s15","s16","s17","s18","P4 IgG","s19","s20","P4 POLR2A","s21","s22"], "padding": 0.5}, "axis": {"orient": "bottom", "title": null, "values": ["P1 IgG","P1 POLR2A","P2 IgG","P2 POLR2A","P3 IgG","P3 POLR2A","P4 IgG","P4 POLR2A"], "labelExpr": "split(datum.label, ' ')[1]", "labelAngle": -45, "ticks": true, "tickSize": 4, "domain": false, "labelFontSize": 11, "labelPadding": 2}},
     "y": {"field": "y", "type": "quantitative", "axis": {"title": "Input %", "values": [0,1,2,3,4,5,6,7]}}
    },
    "layer": [
     {"transform": [{"filter": "datum.t === '*'"}], "mark": {"type": "tick", "size": 16, "thickness": 1.2, "color": "#000"}},
     {"transform": [{"filter": "datum.t === '*'"}], "mark": {"type": "text", "text": "*", "fontSize": 15, "fontWeight": "bold", "baseline": "alphabetic"}},
     {"transform": [{"filter": "datum.t !== '*'"}], "mark": {"type": "text", "fontSize": 12, "fontWeight": "bold", "align": "center", "baseline": "middle"}, "encoding": {"text": {"field": "t"}}}
    ]}
  ],
  "resolve": {"scale": {"x": "independent", "xOffset": "independent"}, "axis": {"x": "independent"}}
 },
 {
  "width": 310, "height": 108,
  "data": {"values": [
   {"p":"P1","t":"IgG","g":"NC","m":0.28,"lo":0.25,"hi":0.31,"a":0.3,"b":0.26,"d":0.28},
   {"p":"P1","t":"IgG","g":"si-GTF2F2","m":0.24,"lo":0.21,"hi":0.27,"a":0.25,"b":0.22,"d":0.25},
   {"p":"P1","t":"POLR2A","g":"NC","m":2.23,"lo":1.8,"hi":2.66,"a":2.7,"b":2.15,"d":1.85},
   {"p":"P1","t":"POLR2A","g":"si-GTF2F2","m":1.1,"lo":0.92,"hi":1.28,"a":1.3,"b":1.02,"d":0.98},
   {"p":"P2","t":"IgG","g":"NC","m":0.24,"lo":0.21,"hi":0.27,"a":0.26,"b":0.22,"d":0.24},
   {"p":"P2","t":"IgG","g":"si-GTF2F2","m":0.27,"lo":0.24,"hi":0.3,"a":0.29,"b":0.25,"d":0.27},
   {"p":"P2","t":"POLR2A","g":"NC","m":1.9,"lo":1.57,"hi":2.23,"a":2.25,"b":1.85,"d":1.6},
   {"p":"P2","t":"POLR2A","g":"si-GTF2F2","m":2.7,"lo":2.38,"hi":3.02,"a":3.0,"b":2.72,"d":2.4},
   {"p":"P3","t":"IgG","g":"NC","m":0.28,"lo":0.25,"hi":0.31,"a":0.3,"b":0.26,"d":0.28},
   {"p":"P3","t":"IgG","g":"si-GTF2F2","m":0.23,"lo":0.2,"hi":0.26,"a":0.25,"b":0.21,"d":0.23},
   {"p":"P3","t":"POLR2A","g":"NC","m":2.62,"lo":2.28,"hi":2.96,"a":2.95,"b":2.65,"d":2.28},
   {"p":"P3","t":"POLR2A","g":"si-GTF2F2","m":3.8,"lo":3.33,"hi":4.27,"a":4.2,"b":3.9,"d":3.3},
   {"p":"P4","t":"IgG","g":"NC","m":0.24,"lo":0.21,"hi":0.27,"a":0.26,"b":0.22,"d":0.24},
   {"p":"P4","t":"IgG","g":"si-GTF2F2","m":0.24,"lo":0.21,"hi":0.27,"a":0.25,"b":0.22,"d":0.25},
   {"p":"P4","t":"POLR2A","g":"NC","m":2.8,"lo":2.32,"hi":3.28,"a":3.3,"b":2.75,"d":2.35},
   {"p":"P4","t":"POLR2A","g":"si-GTF2F2","m":0.8,"lo":0.65,"hi":0.95,"a":0.95,"b":0.75,"d":0.7}
  ]},
  "transform": [{"calculate": "datum.t + '|' + datum.g", "as": "sub"}],
  "layer": [
   {"layer": [
     {"mark": {"type": "bar", "strokeWidth": 1.5},
      "encoding": {
       "x": {"field": "p", "type": "nominal", "scale": {"domain": ["P1","P2","P3","P4"], "paddingInner": 0.28, "paddingOuter": 0.14}, "axis": {"orient": "bottom", "title": null, "labelAngle": 0, "ticks": true, "tickSize": 5, "tickOffset": -38.75, "labelOffset": 38.75, "labelPadding": 38, "labelAlign": "center", "labelBaseline": "top", "labelFontSize": 12, "labelLineHeight": 10, "labelExpr": "['────', datum.label]"}},
       "xOffset": {"field": "sub", "type": "nominal", "scale": {"domain": ["IgG|NC","IgG|si-GTF2F2","POLR2A|NC","POLR2A|si-GTF2F2"], "paddingInner": 0.05, "paddingOuter": 0}},
       "y": {"field": "m", "type": "quantitative", "scale": {"domain": [0,5], "nice": false}, "axis": {"title": "Input %", "values": [0,1,2,3,4,5]}},
       "color": {"field": "g", "type": "nominal", "scale": {"domain": ["NC","si-GTF2F2"], "range": ["#dd8ef3","#a6f5a2"]}, "legend": {"title": null, "columns": 2, "offset": 9, "encode": {"labels": {"update": {"fill": {"signal": "datum.value === 'GTF2F2' ? '#ff1f1f' : datum.value === 'NC' ? '#8a1cb8' : datum.value === 'si-GTF2F2' ? '#1c9e1c' : '#1f1fff'"}}}}}},
       "stroke": {"field": "g", "type": "nominal", "scale": {"domain": ["NC","si-GTF2F2"], "range": ["#8b22b8","#22a022"]}, "legend": null}
      }},
     {"mark": {"type": "rule", "strokeWidth": 1.5},
      "encoding": {
       "x": {"field": "p", "type": "nominal"},
       "xOffset": {"field": "sub", "type": "nominal", "scale": {"domain": ["IgG|NC","IgG|si-GTF2F2","POLR2A|NC","POLR2A|si-GTF2F2"], "paddingInner": 0.05, "paddingOuter": 0}},
       "y": {"field": "lo", "type": "quantitative", "axis": {"title": "Input %", "values": [0,1,2,3,4,5]}},
       "y2": {"field": "hi"},
       "stroke": {"field": "g", "type": "nominal", "legend": null}
      }},
     {"transform": [{"fold": ["lo","hi"], "as": ["ek","ev"]}],
      "mark": {"type": "tick", "thickness": 1.5, "size": 8},
      "encoding": {
       "x": {"field": "p", "type": "nominal"},
       "xOffset": {"field": "sub", "type": "nominal", "scale": {"domain": ["IgG|NC","IgG|si-GTF2F2","POLR2A|NC","POLR2A|si-GTF2F2"], "paddingInner": 0.05, "paddingOuter": 0}},
       "y": {"field": "ev", "type": "quantitative", "axis": {"title": "Input %", "values": [0,1,2,3,4,5]}},
       "fill": {"field": "g", "type": "nominal", "scale": {"domain": ["NC","si-GTF2F2"], "range": ["#8b22b8","#22a022"]}, "legend": null}
      }},
     {"transform": [{"fold": ["a","b","d"]}, {"calculate": "datum.sub + '_' + datum.key", "as": "gk"}],
      "mark": {"type": "point", "filled": true, "size": 12, "opacity": 1},
      "encoding": {
       "x": {"field": "p", "type": "nominal"},
       "xOffset": {"field": "gk", "type": "nominal", "scale": {"type": "point", "domain": ["IgG|NC_a","IgG|NC_b","IgG|NC_d","_1","IgG|si-GTF2F2_a","IgG|si-GTF2F2_b","IgG|si-GTF2F2_d","_2","POLR2A|NC_a","POLR2A|NC_b","POLR2A|NC_d","_3","POLR2A|si-GTF2F2_a","POLR2A|si-GTF2F2_b","POLR2A|si-GTF2F2_d"], "padding": 0.9}},
       "y": {"field": "value", "type": "quantitative", "axis": {"title": "Input %", "values": [0,1,2,3,4,5]}},
       "fill": {"field": "g", "type": "nominal", "legend": null},
       "shape": {"field": "g", "type": "nominal", "scale": {"domain": ["NC","si-GTF2F2"], "range": ["triangle-up","triangle-down"]}, "legend": null}
      }}
    ],
    "resolve": {"scale": {"xOffset": "independent"}}},
   {"data": {"values": [{"k":"P1 POLR2A","y":3.03,"t":"*"},{"k":"P2 POLR2A","y":3.34,"t":"*"},{"k":"P3 POLR2A","y":4.66,"t":"*"},{"k":"P4 POLR2A","y":3.77,"t":"*"},{"k":"P1 IgG","y":4.78,"t":"PC-3"}]},
    "encoding": {
     "x": {"field": "k", "type": "nominal", "scale": {"type": "point", "domain": ["s0a","s0b","P1 IgG","s1","s2","P1 POLR2A","s3","s4","s5","s6","P2 IgG","s7","s8","P2 POLR2A","s9","s10","s11","s12","P3 IgG","s13","s14","P3 POLR2A","s15","s16","s17","s18","P4 IgG","s19","s20","P4 POLR2A","s21","s22"], "padding": 0.5}, "axis": {"orient": "bottom", "title": null, "values": ["P1 IgG","P1 POLR2A","P2 IgG","P2 POLR2A","P3 IgG","P3 POLR2A","P4 IgG","P4 POLR2A"], "labelExpr": "split(datum.label, ' ')[1]", "labelAngle": -45, "ticks": true, "tickSize": 4, "domain": false, "labelFontSize": 11, "labelPadding": 2}},
     "y": {"field": "y", "type": "quantitative", "axis": {"title": "Input %", "values": [0,1,2,3,4,5]}}
    },
    "layer": [
     {"transform": [{"filter": "datum.t === '*'"}], "mark": {"type": "tick", "size": 16, "thickness": 1.2, "color": "#000"}},
     {"transform": [{"filter": "datum.t === '*'"}], "mark": {"type": "text", "text": "*", "fontSize": 15, "fontWeight": "bold", "baseline": "alphabetic"}},
     {"transform": [{"filter": "datum.t !== '*'"}], "mark": {"type": "text", "fontSize": 12, "fontWeight": "bold", "align": "center", "baseline": "middle"}, "encoding": {"text": {"field": "t"}}}
    ]}
  ],
  "resolve": {"scale": {"x": "independent", "xOffset": "independent"}, "axis": {"x": "independent"}}
 }
 ]
},
{
 "spacing": 8,
 "resolve": {"scale": {"color": "independent", "stroke": "independent", "fill": "independent", "shape": "independent", "x": "independent", "y": "independent", "xOffset": "independent"}, "legend": {"color": "independent"}},
 "hconcat": [
 {
  "width": 310, "height": 108,
  "title": {"text": "F", "offset": -3},
  "data": {"values": [
   {"p":"P1","t":"IgG","g":"Vector","m":0.17,"lo":0.15,"hi":0.19,"a":0.16,"b":0.18,"d":0.17},
   {"p":"P1","t":"IgG","g":"GTF2F2","m":0.22,"lo":0.19,"hi":0.25,"a":0.24,"b":0.2,"d":0.22},
   {"p":"P1","t":"POLR2A","g":"Vector","m":2.9,"lo":2.52,"hi":3.28,"a":3.3,"b":2.9,"d":2.55},
   {"p":"P1","t":"POLR2A","g":"GTF2F2","m":4.27,"lo":3.9,"hi":4.64,"a":4.55,"b":4.4,"d":3.85},
   {"p":"P2","t":"IgG","g":"Vector","m":0.17,"lo":0.15,"hi":0.19,"a":0.16,"b":0.18,"d":0.17},
   {"p":"P2","t":"IgG","g":"GTF2F2","m":0.17,"lo":0.15,"hi":0.19,"a":0.18,"b":0.16,"d":0.17},
   {"p":"P2","t":"POLR2A","g":"Vector","m":2.72,"lo":2.49,"hi":2.95,"a":2.95,"b":2.7,"d":2.5},
   {"p":"P2","t":"POLR2A","g":"GTF2F2","m":2.0,"lo":1.8,"hi":2.2,"a":2.15,"b":2.05,"d":1.8},
   {"p":"P3","t":"IgG","g":"Vector","m":0.2,"lo":0.17,"hi":0.23,"a":0.22,"b":0.18,"d":0.2},
   {"p":"P3","t":"IgG","g":"GTF2F2","m":0.18,"lo":0.16,"hi":0.2,"a":0.19,"b":0.17,"d":0.18},
   {"p":"P3","t":"POLR2A","g":"Vector","m":2.5,"lo":2.25,"hi":2.75,"a":2.75,"b":2.5,"d":2.3},
   {"p":"P3","t":"POLR2A","g":"GTF2F2","m":1.7,"lo":1.35,"hi":2.05,"a":2.05,"b":1.7,"d":1.35},
   {"p":"P4","t":"IgG","g":"Vector","m":0.15,"lo":0.13,"hi":0.17,"a":0.16,"b":0.14,"d":0.15},
   {"p":"P4","t":"IgG","g":"GTF2F2","m":0.17,"lo":0.15,"hi":0.19,"a":0.18,"b":0.16,"d":0.17},
   {"p":"P4","t":"POLR2A","g":"Vector","m":2.9,"lo":2.25,"hi":3.55,"a":3.3,"b":3.2,"d":2.2},
   {"p":"P4","t":"POLR2A","g":"GTF2F2","m":6.5,"lo":5.85,"hi":7.15,"a":7.15,"b":6.45,"d":5.9}
  ]},
  "transform": [{"calculate": "datum.t + '|' + datum.g", "as": "sub"}],
  "layer": [
   {"layer": [
     {"mark": {"type": "bar", "strokeWidth": 1.5},
      "encoding": {
       "x": {"field": "p", "type": "nominal", "scale": {"domain": ["P1","P2","P3","P4"], "paddingInner": 0.28, "paddingOuter": 0.14}, "axis": {"orient": "bottom", "title": null, "labelAngle": 0, "ticks": true, "tickSize": 5, "tickOffset": -38.75, "labelOffset": 38.75, "labelPadding": 38, "labelAlign": "center", "labelBaseline": "top", "labelFontSize": 12, "labelLineHeight": 10, "labelExpr": "['────', datum.label]"}},
       "xOffset": {"field": "sub", "type": "nominal", "scale": {"domain": ["IgG|Vector","IgG|GTF2F2","POLR2A|Vector","POLR2A|GTF2F2"], "paddingInner": 0.05, "paddingOuter": 0}},
       "y": {"field": "m", "type": "quantitative", "scale": {"domain": [0,8], "nice": false}, "axis": {"title": "Input %", "values": [0,2,4,6,8]}},
       "color": {"field": "g", "type": "nominal", "scale": {"domain": ["Vector","GTF2F2"], "range": ["#93c1f7","#f9a4a4"]}, "legend": {"title": null, "columns": 2, "offset": 10, "encode": {"labels": {"update": {"fill": {"signal": "datum.value === 'GTF2F2' ? '#ff1f1f' : datum.value === 'NC' ? '#8a1cb8' : datum.value === 'si-GTF2F2' ? '#1c9e1c' : '#1f1fff'"}}}}}},
       "stroke": {"field": "g", "type": "nominal", "scale": {"domain": ["Vector","GTF2F2"], "range": ["#2140ff","#f01e1e"]}, "legend": null}
      }},
     {"mark": {"type": "rule", "strokeWidth": 1.5},
      "encoding": {
       "x": {"field": "p", "type": "nominal"},
       "xOffset": {"field": "sub", "type": "nominal", "scale": {"domain": ["IgG|Vector","IgG|GTF2F2","POLR2A|Vector","POLR2A|GTF2F2"], "paddingInner": 0.05, "paddingOuter": 0}},
       "y": {"field": "lo", "type": "quantitative", "axis": {"title": "Input %", "values": [0,2,4,6,8]}},
       "y2": {"field": "hi"},
       "stroke": {"field": "g", "type": "nominal", "legend": null}
      }},
     {"transform": [{"fold": ["lo","hi"], "as": ["ek","ev"]}],
      "mark": {"type": "tick", "thickness": 1.5, "size": 8},
      "encoding": {
       "x": {"field": "p", "type": "nominal"},
       "xOffset": {"field": "sub", "type": "nominal", "scale": {"domain": ["IgG|Vector","IgG|GTF2F2","POLR2A|Vector","POLR2A|GTF2F2"], "paddingInner": 0.05, "paddingOuter": 0}},
       "y": {"field": "ev", "type": "quantitative", "axis": {"title": "Input %", "values": [0,2,4,6,8]}},
       "fill": {"field": "g", "type": "nominal", "scale": {"domain": ["Vector","GTF2F2"], "range": ["#2140ff","#f01e1e"]}, "legend": null}
      }},
     {"transform": [{"fold": ["a","b","d"]}, {"calculate": "datum.sub + '_' + datum.key", "as": "gk"}],
      "mark": {"type": "point", "filled": true, "size": 12, "opacity": 1},
      "encoding": {
       "x": {"field": "p", "type": "nominal"},
       "xOffset": {"field": "gk", "type": "nominal", "scale": {"type": "point", "domain": ["IgG|Vector_a","IgG|Vector_b","IgG|Vector_d","_1","IgG|GTF2F2_a","IgG|GTF2F2_b","IgG|GTF2F2_d","_2","POLR2A|Vector_a","POLR2A|Vector_b","POLR2A|Vector_d","_3","POLR2A|GTF2F2_a","POLR2A|GTF2F2_b","POLR2A|GTF2F2_d"], "padding": 0.9}},
       "y": {"field": "value", "type": "quantitative", "axis": {"title": "Input %", "values": [0,2,4,6,8]}},
       "fill": {"field": "g", "type": "nominal", "legend": null},
       "shape": {"field": "g", "type": "nominal", "scale": {"domain": ["Vector","GTF2F2"], "range": ["circle","square"]}, "legend": null}
      }}
    ],
    "resolve": {"scale": {"xOffset": "independent"}}},
   {"data": {"values": [{"k":"P1 POLR2A","y":5.07,"t":"*"},{"k":"P2 POLR2A","y":3.84,"t":"*"},{"k":"P3 POLR2A","y":3.3,"t":"*"},{"k":"P4 POLR2A","y":7.67,"t":"*"},{"k":"P1 IgG","y":7.85,"t":"C4-2B"}]},
    "encoding": {
     "x": {"field": "k", "type": "nominal", "scale": {"type": "point", "domain": ["s0a","s0b","P1 IgG","s1","s2","P1 POLR2A","s3","s4","s5","s6","P2 IgG","s7","s8","P2 POLR2A","s9","s10","s11","s12","P3 IgG","s13","s14","P3 POLR2A","s15","s16","s17","s18","P4 IgG","s19","s20","P4 POLR2A","s21","s22"], "padding": 0.5}, "axis": {"orient": "bottom", "title": null, "values": ["P1 IgG","P1 POLR2A","P2 IgG","P2 POLR2A","P3 IgG","P3 POLR2A","P4 IgG","P4 POLR2A"], "labelExpr": "split(datum.label, ' ')[1]", "labelAngle": -45, "ticks": true, "tickSize": 4, "domain": false, "labelFontSize": 11, "labelPadding": 2}},
     "y": {"field": "y", "type": "quantitative", "axis": {"title": "Input %", "values": [0,2,4,6,8]}}
    },
    "layer": [
     {"transform": [{"filter": "datum.t === '*'"}], "mark": {"type": "tick", "size": 16, "thickness": 1.2, "color": "#000"}},
     {"transform": [{"filter": "datum.t === '*'"}], "mark": {"type": "text", "text": "*", "fontSize": 15, "fontWeight": "bold", "baseline": "alphabetic"}},
     {"transform": [{"filter": "datum.t !== '*'"}], "mark": {"type": "text", "fontSize": 12, "fontWeight": "bold", "align": "center", "baseline": "middle"}, "encoding": {"text": {"field": "t"}}}
    ]}
  ],
  "resolve": {"scale": {"x": "independent", "xOffset": "independent"}, "axis": {"x": "independent"}}
 },
 {
  "width": 310, "height": 108,
  "data": {"values": [
   {"p":"P1","t":"IgG","g":"NC","m":0.3,"lo":0.27,"hi":0.33,"a":0.32,"b":0.28,"d":0.3},
   {"p":"P1","t":"IgG","g":"si-GTF2F2","m":0.28,"lo":0.25,"hi":0.31,"a":0.29,"b":0.26,"d":0.28},
   {"p":"P1","t":"POLR2A","g":"NC","m":2.63,"lo":2.22,"hi":3.04,"a":3.0,"b":2.7,"d":2.2},
   {"p":"P1","t":"POLR2A","g":"si-GTF2F2","m":1.65,"lo":1.4,"hi":1.9,"a":1.85,"b":1.65,"d":1.45},
   {"p":"P2","t":"IgG","g":"NC","m":0.33,"lo":0.3,"hi":0.36,"a":0.35,"b":0.31,"d":0.33},
   {"p":"P2","t":"IgG","g":"si-GTF2F2","m":0.32,"lo":0.29,"hi":0.35,"a":0.34,"b":0.3,"d":0.32},
   {"p":"P2","t":"POLR2A","g":"NC","m":1.9,"lo":1.57,"hi":2.23,"a":2.25,"b":1.8,"d":1.65},
   {"p":"P2","t":"POLR2A","g":"si-GTF2F2","m":2.83,"lo":2.42,"hi":3.24,"a":3.2,"b":2.9,"d":2.4},
   {"p":"P3","t":"IgG","g":"NC","m":0.27,"lo":0.24,"hi":0.3,"a":0.29,"b":0.25,"d":0.27},
   {"p":"P3","t":"IgG","g":"si-GTF2F2","m":0.3,"lo":0.27,"hi":0.33,"a":0.32,"b":0.28,"d":0.3},
   {"p":"P3","t":"POLR2A","g":"NC","m":2.95,"lo":2.7,"hi":3.2,"a":3.2,"b":2.95,"d":2.7},
   {"p":"P3","t":"POLR2A","g":"si-GTF2F2","m":4.1,"lo":3.5,"hi":4.7,"a":4.65,"b":4.3,"d":3.45},
   {"p":"P4","t":"IgG","g":"NC","m":0.35,"lo":0.31,"hi":0.39,"a":0.38,"b":0.33,"d":0.34},
   {"p":"P4","t":"IgG","g":"si-GTF2F2","m":0.28,"lo":0.25,"hi":0.31,"a":0.3,"b":0.26,"d":0.28},
   {"p":"P4","t":"POLR2A","g":"NC","m":2.3,"lo":2.05,"hi":2.55,"a":2.55,"b":2.3,"d":2.05},
   {"p":"P4","t":"POLR2A","g":"si-GTF2F2","m":0.5,"lo":0.45,"hi":0.55,"a":0.55,"b":0.5,"d":0.47}
  ]},
  "transform": [{"calculate": "datum.t + '|' + datum.g", "as": "sub"}],
  "layer": [
   {"layer": [
     {"mark": {"type": "bar", "strokeWidth": 1.5},
      "encoding": {
       "x": {"field": "p", "type": "nominal", "scale": {"domain": ["P1","P2","P3","P4"], "paddingInner": 0.28, "paddingOuter": 0.14}, "axis": {"orient": "bottom", "title": null, "labelAngle": 0, "ticks": true, "tickSize": 5, "tickOffset": -38.75, "labelOffset": 38.75, "labelPadding": 38, "labelAlign": "center", "labelBaseline": "top", "labelFontSize": 12, "labelLineHeight": 10, "labelExpr": "['────', datum.label]"}},
       "xOffset": {"field": "sub", "type": "nominal", "scale": {"domain": ["IgG|NC","IgG|si-GTF2F2","POLR2A|NC","POLR2A|si-GTF2F2"], "paddingInner": 0.05, "paddingOuter": 0}},
       "y": {"field": "m", "type": "quantitative", "scale": {"domain": [0,5], "nice": false}, "axis": {"title": "Input %", "values": [0,1,2,3,4,5]}},
       "color": {"field": "g", "type": "nominal", "scale": {"domain": ["NC","si-GTF2F2"], "range": ["#dd8ef3","#a6f5a2"]}, "legend": {"title": null, "columns": 2, "offset": 10, "encode": {"labels": {"update": {"fill": {"signal": "datum.value === 'GTF2F2' ? '#ff1f1f' : datum.value === 'NC' ? '#8a1cb8' : datum.value === 'si-GTF2F2' ? '#1c9e1c' : '#1f1fff'"}}}}}},
       "stroke": {"field": "g", "type": "nominal", "scale": {"domain": ["NC","si-GTF2F2"], "range": ["#8b22b8","#22a022"]}, "legend": null}
      }},
     {"mark": {"type": "rule", "strokeWidth": 1.5},
      "encoding": {
       "x": {"field": "p", "type": "nominal"},
       "xOffset": {"field": "sub", "type": "nominal", "scale": {"domain": ["IgG|NC","IgG|si-GTF2F2","POLR2A|NC","POLR2A|si-GTF2F2"], "paddingInner": 0.05, "paddingOuter": 0}},
       "y": {"field": "lo", "type": "quantitative", "axis": {"title": "Input %", "values": [0,1,2,3,4,5]}},
       "y2": {"field": "hi"},
       "stroke": {"field": "g", "type": "nominal", "legend": null}
      }},
     {"transform": [{"fold": ["lo","hi"], "as": ["ek","ev"]}],
      "mark": {"type": "tick", "thickness": 1.5, "size": 8},
      "encoding": {
       "x": {"field": "p", "type": "nominal"},
       "xOffset": {"field": "sub", "type": "nominal", "scale": {"domain": ["IgG|NC","IgG|si-GTF2F2","POLR2A|NC","POLR2A|si-GTF2F2"], "paddingInner": 0.05, "paddingOuter": 0}},
       "y": {"field": "ev", "type": "quantitative", "axis": {"title": "Input %", "values": [0,1,2,3,4,5]}},
       "fill": {"field": "g", "type": "nominal", "scale": {"domain": ["NC","si-GTF2F2"], "range": ["#8b22b8","#22a022"]}, "legend": null}
      }},
     {"transform": [{"fold": ["a","b","d"]}, {"calculate": "datum.sub + '_' + datum.key", "as": "gk"}],
      "mark": {"type": "point", "filled": true, "size": 12, "opacity": 1},
      "encoding": {
       "x": {"field": "p", "type": "nominal"},
       "xOffset": {"field": "gk", "type": "nominal", "scale": {"type": "point", "domain": ["IgG|NC_a","IgG|NC_b","IgG|NC_d","_1","IgG|si-GTF2F2_a","IgG|si-GTF2F2_b","IgG|si-GTF2F2_d","_2","POLR2A|NC_a","POLR2A|NC_b","POLR2A|NC_d","_3","POLR2A|si-GTF2F2_a","POLR2A|si-GTF2F2_b","POLR2A|si-GTF2F2_d"], "padding": 0.9}},
       "y": {"field": "value", "type": "quantitative", "axis": {"title": "Input %", "values": [0,1,2,3,4,5]}},
       "fill": {"field": "g", "type": "nominal", "legend": null},
       "shape": {"field": "g", "type": "nominal", "scale": {"domain": ["NC","si-GTF2F2"], "range": ["triangle-up","triangle-down"]}, "legend": null}
      }}
    ],
    "resolve": {"scale": {"xOffset": "independent"}}},
   {"data": {"values": [{"k":"P1 POLR2A","y":3.36,"t":"*"},{"k":"P2 POLR2A","y":4.1,"t":"*"},{"k":"P3 POLR2A","y":5.06,"t":"*"},{"k":"P4 POLR2A","y":2.86,"t":"*"},{"k":"P1 IgG","y":4.86,"t":"C4-2B"}]},
    "encoding": {
     "x": {"field": "k", "type": "nominal", "scale": {"type": "point", "domain": ["s0a","s0b","P1 IgG","s1","s2","P1 POLR2A","s3","s4","s5","s6","P2 IgG","s7","s8","P2 POLR2A","s9","s10","s11","s12","P3 IgG","s13","s14","P3 POLR2A","s15","s16","s17","s18","P4 IgG","s19","s20","P4 POLR2A","s21","s22"], "padding": 0.5}, "axis": {"orient": "bottom", "title": null, "values": ["P1 IgG","P1 POLR2A","P2 IgG","P2 POLR2A","P3 IgG","P3 POLR2A","P4 IgG","P4 POLR2A"], "labelExpr": "split(datum.label, ' ')[1]", "labelAngle": -45, "ticks": true, "tickSize": 4, "domain": false, "labelFontSize": 11, "labelPadding": 2}},
     "y": {"field": "y", "type": "quantitative", "axis": {"title": "Input %", "values": [0,1,2,3,4,5]}}
    },
    "layer": [
     {"transform": [{"filter": "datum.t === '*'"}], "mark": {"type": "tick", "size": 16, "thickness": 1.2, "color": "#000"}},
     {"transform": [{"filter": "datum.t === '*'"}], "mark": {"type": "text", "text": "*", "fontSize": 15, "fontWeight": "bold", "baseline": "alphabetic"}},
     {"transform": [{"filter": "datum.t !== '*'"}], "mark": {"type": "text", "fontSize": 12, "fontWeight": "bold", "align": "center", "baseline": "middle"}, "encoding": {"text": {"field": "t"}}}
    ]}
  ],
  "resolve": {"scale": {"x": "independent", "xOffset": "independent"}, "axis": {"x": "independent"}}
 }
 ]
}
 ]
}
]
}
